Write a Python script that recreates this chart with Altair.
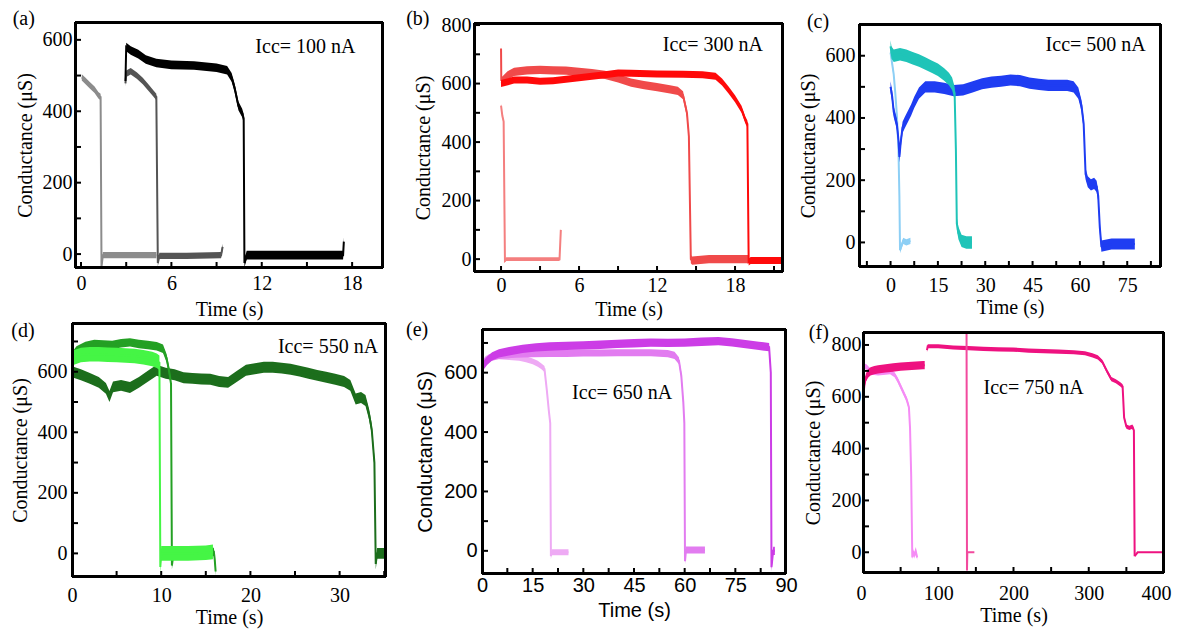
import altair as alt
import pandas as pd

SERIF = "Liberation Serif"
SANS = "Liberation Sans"
W, H = 1166, 623

# ---------------- data ----------------
# panel (a)  Icc = 100 nA
a1_t = [0.05, 0.3, 0.6, 0.9, 1.15, 1.3, 1.36, 1.45, 3.0, 5.0]
a1_g = [495, 485, 472, 460, 445, 440, -35, -3, -3, -3]
a2_t = [2.95, 3.0, 3.3, 3.7, 4.1, 4.5, 4.8, 5.0, 5.1, 5.2, 7.0, 9.3, 9.4]
a2_g = [478, 505, 512, 500, 485, 465, 450, 440, -25, -5, -5, -3, 20]
a3_t = [2.95, 3.0, 3.3, 3.8, 4.3, 5.0, 6.0, 7.5, 9.0, 9.7, 10.0, 10.2, 10.45, 10.7, 10.8, 10.85, 11.0, 14.0, 17.4, 17.45]
a3_g = [485, 580, 570, 560, 545, 535, 530, 528, 522, 515, 495, 465, 415, 395, 380, -25, -3, -3, -3, 35]

# panel (b)  Icc = 300 nA
b1_t = [0.0, 0.1, 0.2, 0.3, 0.4, 2.0, 4.5, 4.6]
b1_g = [525, 490, 470, -5, 0, 0, 0, 100]
b2_t = [0.0, 0.02, 0.1, 0.5, 1.0, 2.0, 3.0, 4.0, 5.0, 6.0, 7.0, 8.0, 9.0, 10.0, 11.0, 12.0, 13.0, 13.6, 14.0, 14.3, 14.45, 14.6, 14.7, 16.0, 19.0]
b2_g = [720, 612, 610, 628, 640, 645, 647, 645, 644, 640, 636, 630, 618, 603, 595, 588, 580, 575, 560, 500, 420, 0, -5, 0, 0]
b3_t = [0.0, 1.0, 2.0, 3.0, 4.0, 5.0, 6.0, 7.0, 8.0, 9.0, 10.0, 12.0, 14.0, 15.5, 16.5, 17.0, 17.5, 18.0, 18.5, 18.8, 18.95, 19.05, 19.2, 20.5, 21.7]
b3_g = [600, 612, 612, 608, 610, 615, 620, 625, 630, 636, 635, 633, 632, 630, 625, 605, 578, 548, 512, 475, 462, -10, -5, -5, -5]

# panel (c)  Icc = 500 nA
c1_t = [0.0, 0.5, 1.0, 1.5, 2.0, 2.5, 2.8, 3.0, 4.0, 5.0, 6.3]
c1_g = [610, 575, 540, 480, 410, 300, 150, -25, 5, 0, 5]
c2_t = [0.0, 0.3, 1.0, 3.0, 5.0, 7.0, 9.0, 11.0, 13.0, 15.0, 17.0, 18.5, 19.5, 20.3, 20.7, 21.0, 21.5, 22.5, 24.0, 25.8]
c2_g = [630, 610, 600, 605, 600, 592, 585, 575, 565, 555, 540, 525, 510, 480, 300, 60, 30, 5, 0, 0]
c3_t = [0.0, 0.5, 1.0, 1.5, 2.0, 2.5, 2.8, 3.2, 3.8, 4.5, 5.5, 6.5, 7.5, 9.0, 11.0, 14.0, 17.0, 20.0, 23.0, 26.0,
        29.0, 32.0, 35.0, 38.0, 41.0, 44.0, 47.0, 50.0, 53.0, 56.0, 58.0, 59.5, 60.5, 61.2, 61.8, 62.5, 63.5, 64.5,
        65.3, 65.8, 66.3, 66.8, 70.0, 74.0, 77.4]
c3_g = [500, 470, 420, 400, 380, 330, 275, 320, 370, 385, 405, 425, 450, 480, 500, 500, 495, 488, 490, 500,
        510, 515, 518, 522, 520, 512, 508, 505, 505, 505, 500, 480, 440, 380, 220, 195, 185, 190,
        180, 150, 50, -12, -5, -5, -5]

# panel (d)  Icc = 550 nA
d1_t = [0.0, 1.0, 2.0, 3.0, 4.0, 5.0, 6.0, 7.0, 8.0, 9.0, 9.5, 9.8, 9.9, 10.0, 11.0, 13.0, 15.0, 15.8]
d1_g = [645, 655, 658, 658, 656, 655, 654, 652, 648, 642, 636, 630, -45, 0, 0, 0, 2, 5]
d2_t = [0.0, 0.5, 1.5, 2.5, 3.5, 4.5, 5.5, 6.5, 7.5, 8.5, 9.5, 10.2, 10.6, 10.9, 11.1, 11.2, 11.4, 13.0, 15.0, 15.9, 16.0, 16.1]
d2_g = [650, 670, 685, 692, 690, 688, 694, 697, 692, 688, 684, 676, 645, 600, 560, -40, 5, 5, 5, 5, -20, -60]
d3_t = [0.0, 1.0, 2.0, 3.0, 3.8, 4.2, 4.6, 5.5, 6.5, 7.5, 8.5, 9.5, 10.5, 11.5, 12.5, 13.5, 14.5, 15.5, 16.5, 17.5,
        18.5, 19.5, 20.5, 21.5, 22.5, 23.5, 24.5, 25.5, 26.5, 27.5, 28.5, 29.5, 30.5, 31.2, 31.8, 32.4, 32.9, 33.3,
        33.6, 33.9, 34.05, 34.2, 35.2]
d3_g = [600, 590, 578, 565, 545, 518, 550, 555, 548, 565, 585, 605, 595, 590, 580, 578, 576, 575, 568, 565,
        585, 605, 610, 615, 615, 612, 608, 602, 595, 588, 582, 575, 568, 555, 510, 515, 505, 460,
        410, 300, -35, 0, 0]

# panel (e)  Icc = 650 nA
e1_t = [0.0, 1.0, 2.0, 3.0, 5.0, 8.0, 11.0, 13.0, 15.0, 16.5, 17.5, 18.5, 19.2, 19.8, 20.2, 20.4, 20.6, 22.0, 24.0, 25.6]
e1_g = [630, 645, 652, 655, 655, 653, 650, 645, 638, 630, 622, 612, 540, 470, 430, -18, -5, -5, -5, -5]
e2_t = [0.0, 1.0, 2.5, 5.0, 10.0, 15.0, 20.0, 25.0, 30.0, 35.0, 40.0, 45.0, 50.0, 55.0, 57.0, 58.3, 59.0, 59.6, 59.9, 60.1, 60.4, 62.0, 64.0, 66.0]
e2_g = [625, 640, 650, 658, 662, 664, 665, 665, 666, 666, 667, 667, 667, 664, 658, 640, 590, 500, 430, -35, 3, 3, 3, 3]
e3_t = [0.0, 0.5, 1.5, 3.0, 5.0, 8.0, 12.0, 16.0, 20.0, 25.0, 30.0, 35.0, 40.0, 45.0, 50.0, 55.0, 60.0, 65.0, 70.0, 74.0,
        78.0, 82.0, 85.0, 85.5, 85.7, 86.2, 86.7]
e3_g = [610, 625, 640, 655, 665, 672, 680, 685, 688, 690, 692, 694, 697, 699, 701, 700, 701, 704, 706, 702,
        696, 690, 686, 600, -55, 0, 0]

# panel (f)  Icc = 750 nA
f1_t = [0, 2, 5, 8, 12, 20, 30, 36, 42, 46, 50, 54, 58, 61, 62.5, 64, 65.5, 66.5, 68, 70, 72]
f1_g = [715, 718, 715, 705, 695, 692, 695, 697, 685, 665, 640, 615, 590, 560, 480, 300, -20, 5, -15, 5, -20]
f2_t = [0, 1, 2, 4, 7, 10, 15, 20, 30, 40, 50, 60, 70, 80, 82]
f2_g = [580, 620, 650, 675, 690, 698, 703, 706, 710, 713, 716, 718, 720, 722, 722]
f3_t = [85, 86, 100, 120, 140, 160, 180, 200, 220, 240, 260, 280, 295, 305, 312, 318, 324, 330, 336, 342,
        345, 347, 350, 354, 358, 360, 361]
f3_g = [780, 795, 795, 790, 788, 785, 783, 782, 778, 776, 774, 772, 768, 760, 752, 735, 700, 668, 660, 648,
        640, 520, 485, 480, 485, 470, -15]
f3z_t = [361, 365, 399]
f3z_g = [-15, 0, 0]
f4_t = [137.6, 138.2, 138.6, 148]
f4_g = [850, -70, 0, 0]

# texts
panel_labels = ["(a)", "(b)", "(c)", "(d)", "(e)", "(f)"]
annot_texts = ["Icc= 100 nA", "Icc= 300 nA", "Icc= 500 nA", "Icc= 550 nA", "Icc= 650 nA", "Icc= 750 nA"]
x_title = "Time (s)"
y_title = "Conductance (\u03bcS)"

# ---------------- panel layout / style ----------------
panels = [
    dict(traces=[("a1", "#8c8c8c", 9, a1_t, a1_g), ("a2", "#555555", 9, a2_t, a2_g), ("a3", "#000000", 12, a3_t, a3_g)],
         xdom=[-0.4, 20.05], ydom=[-39, 650], box=(75, 383, 268, 22),
         xt=[0, 6, 12, 18], yt=[0, 200, 400, 600], xm=[3, 9, 15], ym=[100, 300, 500],
         font=SERIF, lpx=5, lpy=3, tpx=6, tpy=7, flush=0, lab=(-3.8, 658), ann=(14.9, 581)),
    dict(traces=[("b1", "#f47f7f", 6, b1_t, b1_g), ("b2", "#f04a4a", 14, b2_t, b2_g), ("b3", "#ff0a0a", 12, b3_t, b3_g)],
         xdom=[-2.08, 21.69], ydom=[-44, 807], box=(474, 783, 272, 23),
         xt=[0, 6, 12, 18], yt=[0, 200, 400, 600, 800], xm=[3, 9, 15, 21], ym=[100, 300, 500, 700],
         font=SERIF, lpx=3, lpy=3, tpx=4, tpy=8, flush=0, lab=(-6.4, 821), ann=(16.3, 731)),
    dict(traces=[("c1", "#8dcff5", 10, c1_t, c1_g), ("c3", "#1f3df2", 18, c3_t, c3_g), ("c2", "#1fc4b8", 20, c2_t, c2_g)],
         xdom=[-10, 85.7], ydom=[-79, 702], box=(859, 1161, 267, 24),
         xt=[0, 15, 30, 45, 60, 75], yt=[0, 200, 400, 600], xm=[-7.5, 7.5, 22.5, 37.5, 52.5, 67.5, 82.5], ym=[100, 300, 500],
         font=SERIF, lpx=8, lpy=4, tpx=2, tpy=7, flush=0, lab=(-23, 709), ann=(65, 634)),
    dict(traces=[("d3", "#1c6e1c", 18, d3_t, d3_g), ("d2", "#24a024", 14, d2_t, d2_g), ("d1", "#45f545", 24, d1_t, d1_g)],
         xdom=[0, 35.2], ydom=[-78, 761], box=(72, 386, 577, 323),
         xt=[0, 10, 20, 30], yt=[0, 200, 400, 600], xm=[5, 15, 25, 35], ym=[100, 300, 500, 700],
         font=SERIF, lpx=8, lpy=5, tpx=2, tpy=7, flush=0, lab=(-5.5, 733), ann=(28.7, 683)),
    dict(traces=[("e1", "#eeaaf4", 10, e1_t, e1_g), ("e2", "#e27cf0", 12, e2_t, e2_g), ("e3", "#cc3de6", 14, e3_t, e3_g)],
         xdom=[0, 90], ydom=[-78, 747], box=(482, 786, 574, 329),
         xt=[0, 15, 30, 45, 60, 75, 90], yt=[0, 200, 400, 600], xm=[7.5, 22.5, 37.5, 52.5, 67.5, 82.5], ym=[100, 300, 500, 700],
         font=SANS, lpx=1, lpy=5, tpx=5, tpy=8, flush=0, lab=(-19.2, 744), ann=(41.5, 530)),
    dict(traces=[("f1", "#f58cf5", 10, f1_t, f1_g), ("f2", "#ee1280", 16, f2_t, f2_g), ("f3", "#ee1280", 8, f3_t, f3_g),
                 ("f3z", "#ee1280", 0, f3z_t, f3z_g), ("f4", "#f24a9e", 0, f4_t, f4_g)],
         xdom=[0, 400], ydom=[-80, 850], box=(863, 1164, 573, 332),
         xt=[0, 100, 200, 300, 400], yt=[0, 200, 400, 600, 800], xm=[50, 150, 250, 350], ym=[100, 300, 500, 700],
         font=SERIF, lpx=10, lpy=2, tpx=2, tpy=8, flush=7, lab=(-58.7, 847), ann=(226.7, 633)),
]

TICK_PX = 5
INSET_PX = 1.0


def base_axis(**kw):
    d = dict(grid=False, domain=False, ticks=False, tickSize=0, labelColor="black", titleColor="black")
    d.update(kw)
    return alt.Axis(**d)


layers = []
for idx, p in enumerate(panels):
    L, R, B, T = p["box"]
    l, r, b, t = L - 8, R - 8, B - 8, T - 8
    xd0, xd1 = p["xdom"]
    yd0, yd1 = p["ydom"]
    xs = alt.Scale(domain=p["xdom"], range=[l, r], nice=False, zero=False)
    ys = alt.Scale(domain=p["ydom"], range=[b, t], nice=False, zero=False)
    f = p["font"]

    flush_kw = dict(labelFlush=True, labelFlushOffset=p["flush"]) if p["flush"] else dict(labelFlush=False)
    ax_bottom = base_axis(orient="bottom", offset=b - H, values=p["xt"],
                          labelFont=f, labelFontSize=20, labelPadding=p["lpx"],
                          labelOverlap=False, title=x_title, titleFont=f, titleFontSize=20,
                          titleFontWeight="normal", titlePadding=p["tpx"], **flush_kw)
    ax_left = base_axis(orient="left", offset=-l, values=p["yt"],
                        labelFont=f, labelFontSize=20, labelPadding=p["lpy"], labelFlush=False,
                        labelOverlap=False, title=y_title, titleFont=f, titleFontSize=20,
                        titleFontWeight="normal", titlePadding=p["tpy"])

    for k, (name, color, hw, ts, gs) in enumerate(p["traces"]):
        df = pd.DataFrame({"t": ts, "g": gs})
        df["lo"] = df["g"] - hw
        df["hi"] = df["g"] + hw
        df["i"] = list(range(len(ts)))
        if hw > 0:
            layers.append(
                alt.Chart(df).mark_area(color=color, opacity=1).encode(
                    x=alt.X("t:Q", scale=xs, axis=ax_bottom if k == 0 else None),
                    y=alt.Y("lo:Q", scale=ys, axis=ax_left if k == 0 else None),
                    y2="hi:Q",
                )
            )
        layers.append(
            alt.Chart(df).mark_line(color=color, strokeWidth=2).encode(
                x=alt.X("t:Q", scale=xs, axis=None),
                y=alt.Y("g:Q", scale=ys, axis=None),
                order="i:Q",
            )
        )

    # frame of the panel (just inside the axis domains) + inward ticks, drawn as line paths
    ux = (xd1 - xd0) / (R - L)   # data units per pixel
    uy = (yd1 - yd0) / (B - T)
    fx0, fx1 = xd0 + INSET_PX * ux, xd1 - INSET_PX * ux
    fy0, fy1 = yd0 + INSET_PX * uy, yd1 - INSET_PX * uy
    rows = []
    for j, (tx, gy) in enumerate([(fx0, fy0), (fx1, fy0), (fx1, fy1), (fx0, fy1), (fx0, fy0)]):
        rows.append({"t": tx, "g": gy, "seg": "frame", "i": j})
    for v in sorted(p["xt"] + p["xm"]):
        rows.append({"t": v, "g": fy0, "seg": f"x{v}", "i": 0})
        rows.append({"t": v, "g": fy0 + TICK_PX * uy, "seg": f"x{v}", "i": 1})
    for v in sorted(p["yt"] + p["ym"]):
        rows.append({"t": fx0, "g": v, "seg": f"y{v}", "i": 0})
        rows.append({"t": fx0 + TICK_PX * ux, "g": v, "seg": f"y{v}", "i": 1})
    frame_df = pd.DataFrame(rows)
    layers.append(
        alt.Chart(frame_df).mark_line(color="#000000", strokeWidth=2, strokeJoin="miter").encode(
            x=alt.X("t:Q", scale=xs, axis=None),
            y=alt.Y("g:Q", scale=ys, axis=None),
            detail="seg:N",
            order="i:Q",
        )
    )
    # the same frame as rules on the exact domain ends
    rule_df = pd.DataFrame({"x0": [xd0, xd0, xd0, xd1], "x1": [xd1, xd1, xd0, xd1],
                            "y0": [yd0, yd1, yd0, yd0], "y1": [yd0, yd1, yd1, yd1]})
    layers.append(
        alt.Chart(rule_df).mark_rule(color="#000000", strokeWidth=2).encode(
            x=alt.X("x0:Q", scale=xs, axis=None), x2="x1:Q",
            y=alt.Y("y0:Q", scale=ys, axis=None), y2="y1:Q",
        )
    )

    ann = pd.DataFrame({"t": [p["ann"][0]], "g": [p["ann"][1]], "txt": [annot_texts[idx]]})
    layers.append(
        alt.Chart(ann).mark_text(font=SERIF, fontSize=20, color="black").encode(
            x=alt.X("t:Q", scale=xs, axis=None),
            y=alt.Y("g:Q", scale=ys, axis=None),
            text="txt:N",
        )
    )
    lab = pd.DataFrame({"t": [p["lab"][0]], "g": [p["lab"][1]], "txt": [panel_labels[idx]]})
    layers.append(
        alt.Chart(lab).mark_text(font=SERIF, fontSize=20, color="black").encode(
            x=alt.X("t:Q", scale=xs, axis=None),
            y=alt.Y("g:Q", scale=ys, axis=None),
            text="txt:N",
        )
    )

chart = (
    alt.layer(*layers)
    .resolve_scale(x="independent", y="independent")
    .resolve_axis(x="independent", y="independent")
    .properties(width=W, height=H, autosize=alt.AutoSizeParams(type="none"), padding=0)
    .configure_view(stroke=None)
)

chart.save("out.html", embed_options={"renderer": "svg", "actions": False})
